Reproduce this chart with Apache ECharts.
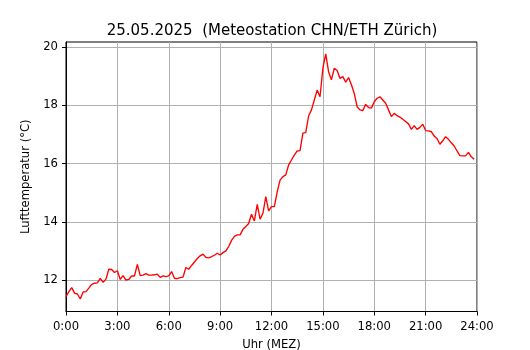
<!DOCTYPE html>
<html>
<head>
<meta charset="utf-8">
<script src="https://cdn.jsdelivr.net/npm/echarts@6/dist/echarts.min.js"></script>
<style>
html,body{margin:0;padding:0;background:#fff;}
#c{width:530px;height:350px;}
</style>
</head>
<body>
<div id="c"></div>
<script>
// 10-minute temperature readings (°C), 25.05.2025, from 0:00 to 23:50
const stepMinutes = 10;
const temps = [
  11.43, 11.60, 11.74, 11.55, 11.52, 11.35,
  11.59, 11.60, 11.72, 11.85, 11.89, 11.90,
  12.06, 11.92, 12.03, 12.37, 12.36, 12.26,
  12.32, 12.02, 12.15, 12.00, 12.02, 12.14,
  12.14, 12.54, 12.15, 12.17, 12.22, 12.17,
  12.17, 12.18, 12.20, 12.09, 12.14, 12.12,
  12.14, 12.29, 12.06, 12.05, 12.08, 12.10,
  12.43, 12.37, 12.50, 12.62, 12.74, 12.83,
  12.89, 12.78, 12.76, 12.80, 12.85, 12.92,
  12.86, 12.94, 13.00, 13.15, 13.36, 13.50,
  13.55, 13.55, 13.74, 13.84, 13.94, 14.26,
  14.03, 14.60, 14.09, 14.29, 14.86, 14.37,
  14.52, 14.52, 15.03, 15.43, 15.55, 15.61,
  15.95, 16.12, 16.29, 16.43, 16.44, 17.04,
  17.06, 17.63, 17.84, 18.18, 18.52, 18.29,
  19.27, 19.76, 19.15, 18.87, 19.27, 19.19,
  18.92, 18.98, 18.79, 18.95, 18.70, 18.40,
  17.95, 17.84, 17.82, 18.03, 17.92, 17.90,
  18.12, 18.24, 18.29, 18.18, 18.07, 17.84,
  17.61, 17.72, 17.64, 17.59, 17.52, 17.44,
  17.36, 17.17, 17.30, 17.17, 17.24, 17.35,
  17.13, 17.12, 17.09, 16.94, 16.86, 16.66,
  16.78, 16.92, 16.83, 16.71, 16.60, 16.43,
  16.27, 16.26, 16.26, 16.38, 16.23, 16.15
];
const xTickHours = [0, 3, 6, 9, 12, 15, 18, 21, 24];
const yTicks = [12, 14, 16, 18, 20];
const titleText = '25.05.2025  (Meteostation CHN/ETH Zürich)';
const xName = 'Uhr (MEZ)';
const yName = 'Lufttemperatur (°C)';

const seriesData = temps.map((t, i) => [i * stepMinutes / 60, t]);

const font = 'DejaVu Sans';
const chart = echarts.init(document.getElementById('c'), null, {renderer: 'canvas'});
chart.setOption({
  animation: false,
  backgroundColor: '#ffffff',
  title: {
    text: titleText,
    left: 267,
    top: 19,
    textAlign: 'center',
    textStyle: {fontFamily: font, fontSize: 15, fontWeight: 'normal', color: '#000'}
  },
  grid: {
    left: 66, right: 53, top: 42, bottom: 38.5,
    containLabel: false,
    outerBoundsMode: 'none',
    show: true, borderColor: '#000', borderWidth: 1, backgroundColor: 'transparent'
  },
  xAxis: {
    type: 'value',
    min: 0, max: 24, interval: 3,
    name: xName,
    nameLocation: 'middle',
    nameGap: 27.5,
    nameTextStyle: {fontFamily: font, fontSize: 11.6, color: '#000'},
    axisLine: {show: true, onZero: false, lineStyle: {color: '#000', width: 1}},
    axisTick: {show: true, inside: false, length: 4, lineStyle: {color: '#000', width: 1}},
    axisLabel: {
      margin: 9.5, fontFamily: font, fontSize: 11.6, color: '#000',
      formatter: v => (xTickHours.indexOf(v) >= 0 ? v + ':00' : '')
    },
    splitLine: {show: true, lineStyle: {color: '#b0b0b0', width: 1}}
  },
  yAxis: {
    type: 'value',
    min: 10.92, max: 20.17,
    name: yName,
    nameLocation: 'middle',
    nameGap: 34,
    nameRotate: 90,
    nameTextStyle: {fontFamily: font, fontSize: 11.6, color: '#000'},
    axisLine: {show: true, onZero: false, lineStyle: {color: '#000', width: 1}},
    axisTick: {show: true, inside: false, length: 4, customValues: yTicks, lineStyle: {color: '#000', width: 1}},
    axisLabel: {margin: 8, fontFamily: font, fontSize: 11.6, color: '#000', customValues: yTicks},
    splitLine: {show: true, lineStyle: {color: '#b0b0b0', width: 1}}
  },
  series: [{
    type: 'line',
    data: seriesData,
    showSymbol: false,
    symbol: 'none',
    lineStyle: {color: '#ff0000', width: 1.35},
    itemStyle: {color: '#ff0000'},
    smooth: false,
    clip: true,
    z: 3
  }]
});
</script>
</body>
</html>
